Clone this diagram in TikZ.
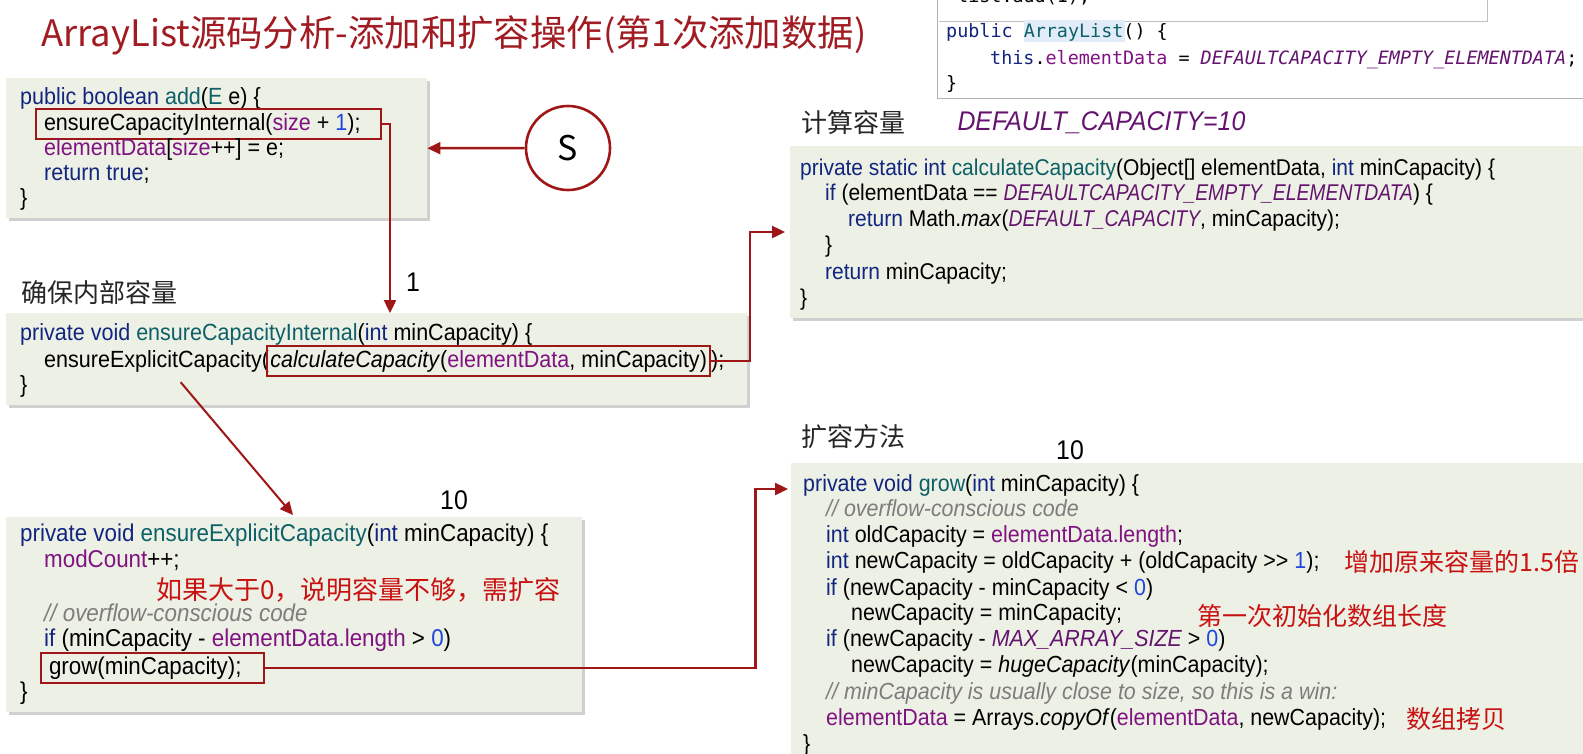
\documentclass[tikz,border=0pt]{standalone}
\usepackage{fontspec}
\setmainfont{Liberation Sans}[FakeStretch=0.92]
\newfontfamily\cjk{Noto Sans CJK SC}
\newfontfamily\jbmono{DejaVu Sans Mono}
\newfontfamily\narrowit{Liberation Sans Italic}[FakeStretch=0.85]
\usepackage{tikz}
\usetikzlibrary{arrows.meta,shadows,positioning}
\usepackage{xcolor}
\definecolor{boxbg}{RGB}{237,240,228}
\definecolor{hlred}{RGB}{158,22,22}
\definecolor{notered}{RGB}{200,18,18}
\definecolor{titlered}{RGB}{160,28,34}
\definecolor{kwblue}{RGB}{18,38,128}
\definecolor{fnteal}{RGB}{14,96,104}
\definecolor{fdpurple}{RGB}{128,18,130}
\definecolor{cspurple}{RGB}{100,20,110}
\definecolor{nmblue}{RGB}{30,70,220}
\definecolor{cmgray}{RGB}{125,125,125}
\definecolor{hlblue}{RGB}{226,236,248}
\newcommand{\Kw}[1]{\textcolor{kwblue}{#1}}
\newcommand{\Fn}[1]{\textcolor{fnteal}{#1}}
\newcommand{\Fd}[1]{\textcolor{fdpurple}{#1}}
\newcommand{\Nm}[1]{\textcolor{nmblue}{#1}}
\newcommand{\Cs}[1]{\textcolor{cspurple}{\itshape #1}}
\newcommand{\Csn}[1]{\textcolor{cspurple}{\narrowit #1}}
\newcommand{\Cm}[1]{\textcolor{cmgray}{\itshape #1}}
\newcommand{\fs}[1]{\fontsize{#1}{#1}\selectfont}

\begin{document}
\begin{tikzpicture}[x=1pt,y=-1pt,
  codebox/.style={fill=boxbg,anchor=north west,inner sep=0pt,
    drop shadow={shadow xshift=3pt,shadow yshift=-3pt,opacity=.3,fill=black!60}},
  code/.style={anchor=west,inner sep=0pt,text height=17pt,text depth=5pt},
  redbox/.style={draw=hlred,line width=2pt,inner xsep=8pt,inner ysep=4pt},
  redarrow/.style={hlred,line width=2.4pt,-{Triangle[length=13pt,width=12pt]}},
  note/.style={anchor=west,text=notered,font=\cjk\fs{25}},
  head/.style={anchor=west,text=black!85,font=\cjk\fs{26}},
  count/.style={font=\fs{27}}]
  \useasboundingbox (0,0) rectangle (1583,753);
  \fill[white] (0,0) rectangle (1583,753);

  % title
  \node[anchor=west,text=titlered,font=\cjk\fs{36.4}] (title) at (38,35)
    {ArrayList源码分析-添加和扩容操作(第1次添加数据)};

  % IDE snippet, top right
  \fill[white] (937,-5) rectangle (1600,98);
  \draw[black!30] (937,-5) -- (937,98) -- (1600,98);
  \fill[white] (939,-5) rectangle (1487,21);
  \draw[black!25] (939,21) -- (1487,21) -- (1487,-5);
  \fill[hlblue] (1024,20) rectangle (1125,42);
  \begin{scope}[every node/.append style={code,font=\jbmono\fs{18.4}}]
    \node (listadd) at (957,-4) {list.add(1);};
    \node (ctor) at (946,31) {\Kw{public} \Fn{ArrayList}() \{};
    \node (ctorbody) at (990,58) {\Kw{this}.\Fd{elementData} = \Cs{DEFAULTCAPACITY\_EMPTY\_ELEMENTDATA};};
    \node (ctorend) at (946,83) {\}};
  \end{scope}

  % code boxes
  \node[codebox,minimum width=421,minimum height=140] (boxA) at (6,78) {};
  \node[codebox,minimum width=741,minimum height=92] (boxB) at (6,313) {};
  \node[codebox,minimum width=576,minimum height=195] (boxC) at (6,517) {};
  \node[codebox,minimum width=820,minimum height=172] (boxD) at (790,146) {};
  \node[codebox,minimum width=820,minimum height=310] (boxE) at (791,463) {};

  % add
  \begin{scope}[every node/.append style={font=\fs{23.4}}]
    \node[code] (addA) at (20,98) {\Kw{public boolean} \Fn{add}(\Fn{E} e) \{};
    \node[code,redbox] (ensA) at (35,124) {ensureCapacityInternal(\Fd{size} + \Nm{1});\hspace*{12pt}};
    \node[code] (storeA) at (44,149) {\Fd{elementData}[\Fd{size}++] = e;};
    \node[code] (retA) at (44,174) {\Kw{return true};};
    \node[code] (endA) at (20,199) {\}};
  \end{scope}

  % ensureCapacityInternal
  \node[head] (hB) at (18,293) {确保内部容量};
  \begin{scope}[every node/.append style={font=\fs{23.4}}]
    \node[code] (sigB) at (20,334) {\Kw{private void} \Fn{ensureCapacityInternal}(\Kw{int} minCapacity) \{};
    \node[code] (eecB) at (44,361) {ensureExplicitCapacity(};
    \node[code,redbox,inner xsep=3pt,right=-3pt of eecB] (calcB) {\textit{calculateCapacity}(\Fd{elementData}, minCapacity)};
    \node[code,right=0pt of calcB] (tailB) {);};
    \node[code] (endB) at (20,386) {\}};
  \end{scope}

  % ensureExplicitCapacity
  \node[count] (cntC) at (454,500) {10};
  \begin{scope}[every node/.append style={font=\fs{24.3}}]
    \node[code] (sigC) at (20,535) {\Kw{private void} \Fn{ensureExplicitCapacity}(\Kw{int} minCapacity) \{};
    \node[code] (modC) at (44,561) {\Fd{modCount}++;};
    \node[code] (cmC) at (44,615) {\Cm{// overflow-conscious code}};
    \node[code] (ifC) at (44,640) {\Kw{if} (minCapacity - \Fd{elementData.length} > \Nm{0})};
    \node[code,redbox] (growC) at (40,668) {grow(minCapacity);\hspace*{14pt}};
    \node[code] (endC) at (20,693) {\}};
  \end{scope}
  \node[note,font=\cjk\fs{26}] (noteC) at (153,590) {如果大于0，说明容量不够，需扩容};

  % calculateCapacity
  \node[head] (hD) at (798,123) {计算容量};
  \node[anchor=west,text=cspurple,font=\fs{27}\itshape] (defcap) at (954,123) {DEFAULT\_CAPACITY=10};
  \begin{scope}[every node/.append style={font=\fs{22.8}}]
    \node[code] (sigD) at (800,169) {\Kw{private static int} \Fn{calculateCapacity}(Object[] elementData, \Kw{int} minCapacity) \{};
    \node[code] (ifD) at (825,194) {\Kw{if} (elementData == \Csn{DEFAULTCAPACITY\_EMPTY\_ELEMENTDATA}) \{};
    \node[code] (maxD) at (848,220) {\Kw{return} Math.\textit{max}(\Csn{DEFAULT\_CAPACITY}, minCapacity);};
    \node[code] (fiD) at (825,246) {\}};
    \node[code] (retD) at (825,273) {\Kw{return} minCapacity;};
    \node[code] (endD) at (800,299) {\}};
  \end{scope}

  % grow
  \node[head] (hE) at (798,437) {扩容方法};
  \node[count] (cntE) at (1070,450) {10};
  \begin{scope}[every node/.append style={font=\fs{23.3}}]
    \node[code] (sigE) at (803,485) {\Kw{private void} \Fn{grow}(\Kw{int} minCapacity) \{};
    \node[code] (cm1E) at (826,510) {\Cm{// overflow-conscious code}};
    \node[code] (oldE) at (826,536) {\Kw{int} oldCapacity = \Fd{elementData.length};};
    \node[code] (newE) at (826,562) {\Kw{int} newCapacity = oldCapacity + (oldCapacity >{}> \Nm{1});};
    \node[code] (if1E) at (826,589) {\Kw{if} (newCapacity - minCapacity < \Nm{0})};
    \node[code] (set1E) at (851,614) {newCapacity = minCapacity;};
    \node[code] (if2E) at (826,640) {\Kw{if} (newCapacity - \Cs{MAX\_ARRAY\_SIZE} > \Nm{0})};
    \node[code] (set2E) at (851,666) {newCapacity = \textit{hugeCapacity}(minCapacity);};
    \node[code] (cm2E) at (826,693) {\Cm{// minCapacity is usually close to size, so this is a win:}};
    \node[code] (copyE) at (826,719) {\Fd{elementData} = Arrays.\textit{copyOf}(\Fd{elementData}, newCapacity);};
    \node[code] (endE) at (803,745) {\}};
  \end{scope}
  \node[note] (note1E) at (1341,562) {增加原来容量的1.5倍};
  \node[note] (note2E) at (1194,616) {第一次初始化数组长度};
  \node[note] (note3E) at (1403,719) {数组拷贝};

  % start marker
  \node[circle,draw=hlred,line width=2.6pt,fill=white,minimum size=84,
    inner sep=0pt,font=\cjk\fs{34}] (S) at (568,148) {S};

  % call arrows
  \coordinate (inB) at (390,313);
  \coordinate (inC) at (293,515);
  \coordinate (inD) at (785,232);
  \coordinate (inE) at (788,489);
  \draw[redarrow] (S) -- (boxA.east);
  \draw[redarrow] (ensA.east) -| (inB);
  \node[count] (cntB) at (413,282) {1};
  \draw[redarrow] (calcB.east) -- ++(39,0) |- (inD);
  \draw[redarrow,line width=2pt] ([xshift=24pt,yshift=-10pt]eecB.south) -- (inC);
  \draw[redarrow] (growC.east) -- ++(491,0) |- (inE);
\end{tikzpicture}
\end{document}
